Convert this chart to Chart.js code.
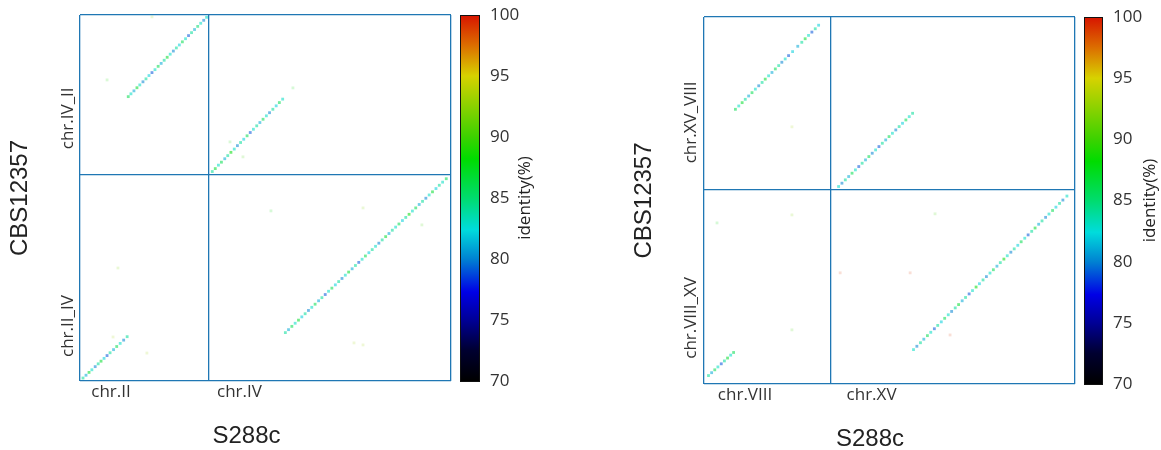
<!DOCTYPE html>
<html>
<head>
<meta charset="utf-8">
<script src="https://cdn.jsdelivr.net/npm/chart.js@4.4.1/dist/chart.umd.min.js"></script>
<style>
  html, body { margin: 0; padding: 0; background: #ffffff; }
  #wrap { position: relative; width: 1161px; height: 450px; overflow: hidden; }
  #wrap canvas { position: absolute; top: 0; }
</style>
</head>
<body>
<div id="wrap">
  <canvas id="dotLeft" width="580" height="450" style="left:0px"></canvas>
  <canvas id="dotRight" width="581" height="450" style="left:580px"></canvas>
</div>
<script>
// ---------------- data (positions in kb) ----------------
const refName = 'S288c';
const qryName = 'CBS12357';
const identityTicks = [70, 75, 80, 85, 90, 95, 100];

// Left panel: S288c chr.II + chr.IV against CBS12357 chr.II_IV + chr.IV_II
const leftXChroms = ['chr.II', 'chr.IV'];
const leftXBounds = [0, 813, 2345];
const leftXTicks = [196, 1008];
const leftYChroms = ['chr.II_IV', 'chr.IV_II'];
const leftYBounds = [0, 1320, 2345];
const leftYTicks = [352, 1683];
// alignment blocks: [S288c pos, CBS12357 pos, identity %]
const leftBlocks = [
  [19,19,84],[38,37,81],[57,55,87],[75,72,83],[96,92,80],[115,110,84],[133,127,87],[152,145,82],
  [171,163,79],[190,181,84],[212,201,81],[232,221,86],[254,241,83],[276,262,80],[298,284,84],
  [305,1822,86],[322,1840,83],[341,1859,81],[360,1879,87],[378,1897,83],[398,1917,80],[417,1936,84],
  [436,1957,82],[455,1976,79],[474,1995,83],[494,2016,86],[513,2035,81],[532,2055,84],[551,2074,87],
  [570,2094,83],[590,2114,80],[609,2134,84],[628,2153,82],[647,2173,86],[667,2193,83],[686,2213,79],
  [705,2232,84],[724,2252,81],[744,2272,85],[763,2292,83],[782,2311,80],[800,2330,83],
  [836,1342,84],[855,1361,87],[875,1383,83],[894,1402,86],[915,1424,81],[934,1444,84],[954,1465,88],
  [975,1486,83],[995,1508,80],[1015,1528,84],[1035,1549,82],[1056,1571,86],[1076,1592,79],[1096,1613,83],
  [1117,1635,84],[1137,1656,81],[1157,1677,86],[1178,1699,83],[1198,1719,80],[1219,1741,84],[1240,1763,82],
  [1260,1784,86],[1281,1806,83],
  [1298,310,84],[1318,329,81],[1339,350,86],[1360,370,83],[1381,390,87],[1402,411,82],[1423,431,84],
  [1444,452,80],[1465,472,83],[1486,492,86],[1508,514,81],[1529,534,84],[1550,554,79],[1571,575,83],
  [1592,595,86],[1614,616,82],[1635,637,84],[1656,657,80],[1677,678,83],[1698,698,87],[1720,719,81],
  [1741,740,84],[1762,760,79],[1783,780,83],[1804,801,86],[1826,822,82],[1847,842,84],[1868,863,83],
  [1889,883,80],[1910,904,84],[1932,925,87],[1953,945,81],[1974,966,84],[1995,986,83],[2016,1006,86],
  [2038,1028,82],[2059,1048,84],[2080,1068,88],[2101,1089,83],[2122,1109,86],[2144,1131,81],[2165,1151,84],
  [2186,1171,80],[2207,1192,83],[2228,1212,87],[2250,1233,82],[2271,1254,84],[2292,1274,83],[2315,1296,86]
];
// short, weak hits
const leftWeak = [
  [171,1929,89],[948,1532,89],[1030,1436,90],[1346,1878,88],[209,282,93],[423,179,93],[240,724,92],
  [455,2333,92],[1789,1109,92],[1207,1090,88],[2161,1000,90],[1732,244,93],[1789,231,93]
];

// Right panel: S288c chr.VIII + chr.XV against CBS12357 chr.VIII_XV + chr.XV_VIII
const rightXChroms = ['chr.VIII', 'chr.XV'];
const rightXBounds = [0, 563, 1654];
const rightXTicks = [183, 747];
const rightYChroms = ['chr.VIII_XV', 'chr.XV_VIII'];
const rightYBounds = [0, 874, 1654];
const rightYTicks = [298, 1179];
const rightBlocks = [
  [20,38,84],[34,51,81],[48,64,86],[62,77,83],[77,91,79],[91,104,84],[105,117,87],[119,130,83],[132,142,86],
  [140,1238,86],[155,1253,83],[170,1268,87],[184,1283,84],[199,1298,81],[214,1313,86],[229,1329,83],
  [244,1344,80],[259,1359,84],[273,1374,87],[288,1389,83],[303,1404,81],[318,1420,86],[333,1435,84],
  [347,1450,80],[362,1465,83],[377,1480,79],[395,1498,82],[418,1522,81],[436,1540,84],[451,1556,87],
  [466,1571,83],[481,1586,79],[496,1601,84],[511,1617,82],
  [600,890,83],[615,905,80],[630,920,84],[645,935,81],[660,950,86],[675,965,83],[690,980,79],
  [705,995,84],[720,1010,81],[735,1025,86],[750,1040,80],[765,1055,83],[780,1070,79],[795,1085,84],
  [810,1100,81],[825,1115,86],[840,1130,83],[855,1145,80],[870,1160,84],[885,1175,82],[900,1190,86],
  [915,1205,83],[930,1220,84],
  [934,155,83],[949,170,80],[965,186,84],[980,202,81],[996,218,86],[1011,233,83],[1027,249,79],
  [1042,264,84],[1058,280,82],[1073,296,86],[1089,312,83],[1104,327,80],[1120,343,84],[1135,358,87],
  [1151,375,81],[1166,390,84],[1182,406,79],[1197,421,83],[1213,437,88],[1228,452,82],[1244,469,84],
  [1259,484,80],[1275,500,83],[1290,515,86],[1306,531,81],[1321,547,84],[1337,563,88],[1352,578,83],
  [1368,594,80],[1383,609,84],[1399,625,82],[1414,641,86],[1430,657,83],[1445,672,79],[1461,688,84],
  [1476,703,87],[1492,720,81],[1507,735,84],[1523,751,80],[1538,766,83],[1554,782,86],[1569,797,82],
  [1585,814,84],[1600,829,80],[1618,847,83]
];
const rightWeak = [
  [607,501,99],[919,501,99],[1097,221,99],[1030,767,90],[392,1159,93],[392,762,92],[392,244,90],[58,726,88]
];

// ---------------- styling ----------------
const FRAME = '#1f77b4';
const TEXT = '#333333';
const TITLE = '#222222';
const TICK_FONT = "'Open Sans', 'Noto Sans', sans-serif";
const TITLE_FONT = "'Liberation Sans', Arial, sans-serif";
// identity colour ramp (black -> blue -> cyan -> green -> yellow -> red)
const RAMP = [
  [70, [0, 0, 0]], [72.5, [0, 0, 48]], [75, [0, 0, 150]], [77.3, [0, 0, 230]],
  [80, [0, 130, 210]], [82.4, [0, 220, 220]], [85, [0, 220, 110]], [88.2, [0, 220, 0]],
  [90, [60, 210, 0]], [95, [215, 210, 0]], [97.5, [220, 110, 0]], [100, [215, 20, 0]]
];

function rampColor(v, alpha) {
  v = Math.max(70, Math.min(100, v));
  for (let i = 1; i < RAMP.length; i++) {
    const [v1, c1] = RAMP[i];
    const [v0, c0] = RAMP[i - 1];
    if (v <= v1) {
      const t = (v - v0) / (v1 - v0);
      const c = c0.map((a, k) => Math.round(a + (c1[k] - a) * t));
      return `rgba(${c[0]},${c[1]},${c[2]},${alpha})`;
    }
  }
  return `rgba(215,20,0,${alpha})`;
}

const toPoints = rows => rows.map(([x, y, id]) => ({ x, y, id }));

// keep the plot frame exactly where the axis sizes put it
function fixBox(prop, size) {
  return s => {
    s[prop] = size;
    s.paddingTop = 0; s.paddingBottom = 0; s.paddingLeft = 0; s.paddingRight = 0;
  };
}

// draws the colour bar, rotated chromosome labels and the axis captions
function decorPlugin(spec, L) {
  return {
    id: 'dotDecor',
    afterDraw(chart) {
      const ctx = chart.ctx;
      const area = chart.chartArea;
      const ys = chart.scales.y;
      const cb = chart.scales.cbar;

      // colour bar
      const top = cb.getPixelForValue(100);
      const bot = cb.getPixelForValue(70);
      const x0 = cb.left + L.cbarGap;
      const grad = ctx.createLinearGradient(0, bot, 0, top);
      RAMP.forEach(([v, c]) => grad.addColorStop((v - 70) / 30, `rgb(${c[0]},${c[1]},${c[2]})`));
      ctx.save();
      ctx.fillStyle = grad;
      ctx.fillRect(x0, top, L.cbarW, bot - top);
      ctx.strokeStyle = '#111111';
      ctx.lineWidth = 1;
      ctx.strokeRect(Math.round(x0) + 0.5, Math.round(top) + 0.5, L.cbarW - 1, Math.round(bot - top));
      ctx.restore();

      // y chromosome names, reading upwards
      ctx.save();
      ctx.fillStyle = TEXT;
      ctx.font = `17px ${TICK_FONT}`;
      ctx.textAlign = 'center';
      ctx.textBaseline = 'middle';
      spec.yTicks.forEach((v, i) => {
        ctx.save();
        ctx.translate(area.left - L.catGap, ys.getPixelForValue(v));
        ctx.rotate(-Math.PI / 2);
        ctx.fillText(spec.yChroms[i], 0, 0);
        ctx.restore();
      });
      // colour bar caption
      ctx.save();
      ctx.font = `17px ${TICK_FONT}`;
      ctx.fillStyle = TITLE;
      ctx.translate(cb.left + L.idOff, (area.top + area.bottom) / 2);
      ctx.rotate(-Math.PI / 2);
      ctx.fillText('identity(%)', 0, 0);
      ctx.restore();
      // x caption
      ctx.font = `24px ${TITLE_FONT}`;
      ctx.fillStyle = TITLE;
      ctx.textBaseline = 'alphabetic';
      ctx.fillText(refName, (area.left + area.right) / 2 + L.xTitleShift, area.bottom + L.xTitleBase);
      ctx.restore();
    }
  };
}

function makeDotPlot(canvasId, spec, L) {
  const isBound = (bounds, v) => bounds.includes(v);
  return new Chart(document.getElementById(canvasId), {
    type: 'scatter',
    data: {
      datasets: [
        {
          data: toPoints(spec.weak),
          pointStyle: 'rect',
          pointRadius: 2,
          borderWidth: 0,
          backgroundColor: c => rampColor(c.raw ? c.raw.id : 85, 0.16)
        },
        {
          data: toPoints(spec.blocks),
          pointStyle: 'rect',
          pointRadius: 2,
          borderWidth: 0,
          backgroundColor: c => rampColor(c.raw ? c.raw.id : 85, 0.55)
        }
      ]
    },
    options: {
      responsive: false,
      devicePixelRatio: 1,
      animation: false,
      events: [],
      layout: { padding: { top: L.padTop, left: 0, right: 0, bottom: 0 } },
      plugins: { legend: { display: false }, tooltip: { enabled: false } },
      scales: {
        x: {
          type: 'linear',
          min: spec.xBounds[0],
          max: spec.xBounds[spec.xBounds.length - 1],
          afterBuildTicks: s => {
            s.ticks = [...spec.xBounds, ...spec.xTicks].sort((a, b) => a - b).map(v => ({ value: v }));
          },
          afterFit: fixBox('height', L.xAxisH),
          border: { display: false },
          grid: {
            drawTicks: false,
            lineWidth: 1.3,
            color: c => (c.tick && isBound(spec.xBounds, c.tick.value)) ? FRAME : 'rgba(0,0,0,0)'
          },
          ticks: {
            autoSkip: false,
            maxRotation: 0,
            padding: L.xTickPad,
            color: TEXT,
            font: { family: TICK_FONT, size: 17 },
            callback: v => {
              const i = spec.xTicks.indexOf(v);
              return i >= 0 ? spec.xChroms[i] : '';
            }
          }
        },
        y: {
          type: 'linear',
          min: spec.yBounds[0],
          max: spec.yBounds[spec.yBounds.length - 1],
          afterBuildTicks: s => {
            s.ticks = spec.yBounds.map(v => ({ value: v }));
          },
          afterFit: fixBox('width', L.yAxisW),
          border: { display: false },
          grid: { drawTicks: false, lineWidth: 1.3, color: FRAME },
          ticks: { display: false },
          title: {
            display: true,
            text: qryName,
            color: TITLE,
            font: { family: TITLE_FONT, size: 24 },
            padding: { top: L.yTitlePad, bottom: 0 }
          }
        },
        cbar: {
          type: 'linear',
          position: 'right',
          min: 70,
          max: 100,
          afterBuildTicks: s => { s.ticks = identityTicks.map(v => ({ value: v })); },
          afterFit: fixBox('width', L.cbarAxisW),
          border: { display: false },
          grid: { display: false, drawTicks: false },
          ticks: {
            padding: L.cbarLabelPad,
            color: TEXT,
            font: { family: TICK_FONT, size: 17 }
          }
        }
      }
    },
    plugins: [decorPlugin(spec, L)]
  });
}

makeDotPlot('dotLeft', {
  xChroms: leftXChroms, xBounds: leftXBounds, xTicks: leftXTicks,
  yChroms: leftYChroms, yBounds: leftYBounds, yTicks: leftYTicks,
  blocks: leftBlocks, weak: leftWeak
}, {
  padTop: 15, yAxisW: 80, xAxisH: 69, cbarAxisW: 129, yTitlePad: 5.6, xTickPad: 1,
  catGap: 12, cbarGap: 9, cbarW: 20, cbarLabelPad: 39, idOff: 74, xTitleShift: -19, xTitleBase: 62
});

makeDotPlot('dotRight', {
  xChroms: rightXChroms, xBounds: rightXBounds, xTicks: rightXTicks,
  yChroms: rightYChroms, yBounds: rightYBounds, yTicks: rightYTicks,
  blocks: rightBlocks, weak: rightWeak
}, {
  padTop: 17, yAxisW: 124, xAxisH: 66, cbarAxisW: 86, yTitlePad: 49.6, xTickPad: 1,
  catGap: 13, cbarGap: 9, cbarW: 19, cbarLabelPad: 38, idOff: 75, xTitleShift: -19.5, xTitleBase: 62
});
</script>
</body>
</html>
